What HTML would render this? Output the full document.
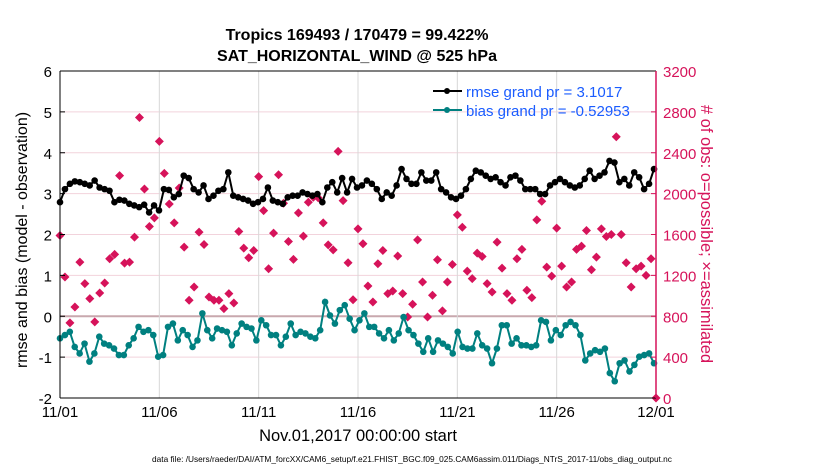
<!DOCTYPE html>
<html><head><meta charset="utf-8"><style>
body{margin:0;background:#fff;width:830px;height:470px;overflow:hidden}
svg{display:block;font-family:"Liberation Sans",Arial,sans-serif}
</style></head><body>
<svg id="chart" width="830" height="470" viewBox="0 0 830 470">
<text x="357" y="40" text-anchor="middle" font-size="16" font-weight="bold">Tropics 169493 / 170479 = 99.422%</text>
<text x="357" y="61" text-anchor="middle" font-size="16" font-weight="bold">SAT_HORIZONTAL_WIND @ 525 hPa</text>
<g id="grid"></g>
<g id="marks"></g>
<g id="axes"></g>
<text transform="translate(27,240) rotate(-90)" text-anchor="middle" font-size="16">rmse and bias (model - observation)</text>
<text transform="translate(701,234) rotate(90)" text-anchor="middle" font-size="16.5" fill="#d6135a">#  of obs: o=possible; ×=assimilated</text>
<text x="358" y="441" text-anchor="middle" font-size="16.5">Nov.01,2017 00:00:00 start</text>
<text x="412" y="462" text-anchor="middle" font-size="8.3">data file: /Users/raeder/DAI/ATM_forcXX/CAM6_setup/f.e21.FHIST_BGC.f09_025.CAM6assim.011/Diags_NTrS_2017-11/obs_diag_output.nc</text>
<g>
<line x1="433" y1="91" x2="462" y2="91" stroke="#000" stroke-width="2"/><circle cx="447" cy="91" r="3" fill="#000"/>
<text x="466" y="97" font-size="15" fill="#1a5cff">rmse grand pr = 3.1017</text>
<line x1="433" y1="110" x2="462" y2="110" stroke="#008080" stroke-width="2"/><circle cx="447" cy="110" r="3" fill="#008080"/>
<text x="466" y="116" font-size="15" fill="#1a5cff">bias grand pr = -0.52953</text>
</g>
</svg>
<script>
const xTickLabels=["11/01","11/06","11/11","11/16","11/21","11/26","12/01"];
const xTickDays=[0,5,10,15,20,25,30];
const yLeftTicks=[6,5,4,3,2,1,0,-1,-2];
const yRightTicks=[3200,2800,2400,2000,1600,1200,800,400,0];
const rmse=[2.79,3.11,3.24,3.30,3.28,3.24,3.20,3.32,3.15,3.11,3.07,2.79,2.85,2.83,2.75,2.71,2.67,2.73,2.54,2.71,2.59,3.11,3.09,2.91,2.99,3.44,3.38,3.11,3.03,3.20,2.87,2.95,3.07,3.11,3.52,2.95,2.91,2.87,2.83,2.75,2.79,2.87,3.15,2.83,2.79,2.75,2.91,2.95,2.95,3.03,2.99,2.95,2.99,2.79,3.15,3.28,3.03,3.38,
3.03,3.36,3.15,3.20,3.32,3.24,3.11,2.87,3.03,2.95,3.20,3.60,3.36,3.24,3.24,3.52,3.32,3.32,3.52,3.11,3.03,2.91,2.87,2.95,3.11,3.36,3.56,3.52,3.44,3.36,3.40,3.28,3.20,3.40,3.44,3.32,3.11,3.11,3.11,2.99,2.99,3.20,3.28,3.36,3.28,3.20,3.15,3.20,3.36,3.56,3.36,3.44,3.52,3.80,3.76,3.28,3.36,3.20,3.52,3.40,3.11,3.24,3.60];
const bias=[-0.54,-0.46,-0.38,-0.75,-0.91,-0.67,-1.11,-0.91,-0.50,-0.67,-0.71,-0.79,-0.95,-0.95,-0.71,-0.54,-0.26,-0.38,-0.34,-0.46,-0.99,-0.95,-0.26,-0.18,-0.59,-0.34,-0.46,-0.75,-0.59,0.07,-0.34,-0.54,-0.30,-0.34,-0.38,-0.71,-0.42,-0.18,-0.26,-0.30,-0.59,-0.10,-0.22,-0.46,-0.46,-0.71,-0.50,-0.18,-0.46,-0.38,-0.42,-0.50,-0.54,-0.34,0.35,0.02,-0.18,0.15,0.27,-0.06,-0.34,-0.10,0.07,-0.26,
-0.26,-0.42,-0.54,-0.34,-0.59,-0.42,-0.02,-0.34,-0.46,-0.67,-0.87,-0.54,-0.87,-0.59,-0.67,-0.75,-0.91,-0.38,-0.75,-0.79,-0.79,-0.42,-0.71,-0.79,-1.15,-0.79,-0.22,-0.22,-0.67,-0.54,-0.71,-0.71,-0.75,-0.71,-0.10,-0.14,-0.59,-0.34,-0.46,-0.22,-0.14,-0.22,-0.46,-1.08,-0.91,-0.83,-0.87,-0.79,-1.39,-1.59,-1.15,-1.08,-1.35,-1.19,-0.99,-0.95,-0.91,-1.15];
const obsCount=[1590,1184,735,891,1330,1119,972,745,1028,1125,1363,1405,2176,1320,1330,1574,2745,2045,1678,1763,2511,2198,1899,1714,2055,1476,956,1086,1623,1502,988,956,956,875,1021,930,1629,1467,1373,1444,2166,1834,1265,1613,2185,1906,1532,1356,1812,1584,1915,1964,1958,1714,1499,1450,2413,1932,1323,962,1655,1509,1096,
940,1314,1444,1021,1047,1389,1021,793,917,1548,1135,793,1005,1353,852,1135,1307,1792,1671,1242,1168,1418,1385,1119,1037,1525,1271,1021,956,1363,1454,1054,982,1743,1925,1281,1193,1662,1291,1086,1135,1454,1486,1639,1255,1379,1655,1580,1600,2556,1600,1323,1086,1265,1291,1200,1363,0];

const NS="http://www.w3.org/2000/svg";
const X0=60,X1=656,Y0=71,Y1=398;
const xs=d=>X0+(X1-X0)*d/30;
const yL=v=>Y1-(v+2)/8*(Y1-Y0);
const yR=v=>Y1-v/3200*(Y1-Y0);
function mk(tag,attrs,parent){const e=document.createElementNS(NS,tag);for(const k in attrs)e.setAttribute(k,attrs[k]);parent.appendChild(e);return e;}
const grid=document.getElementById('grid'),marks=document.getElementById('marks'),axes=document.getElementById('axes');
yLeftTicks.forEach((v,i)=>{
  const l=mk('line',{x1:X0,x2:X1,y1:yL(v),y2:yL(v),stroke:v===0?'#c8a8ae':'#f2d3dc','stroke-width':v===0?2:1},grid);
  
  
  const t=mk('text',{x:X0-8,y:yL(v)+6,'text-anchor':'end','font-size':15},axes);t.textContent=v;
  
  
  mk('line',{x1:X0,x2:X0+5,y1:yL(v),y2:yL(v),stroke:'#000'},axes);
});
yRightTicks.forEach(v=>{
  mk('line',{x1:X1-5,x2:X1,y1:yR(v),y2:yR(v),stroke:'#d6135a'},axes);
  const t=mk('text',{x:X1+7,y:yR(v)+6,'font-size':15,fill:'#d6135a'},axes);t.textContent=v;
  
  
});
xTickDays.forEach((d,i)=>{
  if(d>0&&d<30){const l=mk('line',{x1:xs(d),x2:xs(d),y1:Y0,y2:Y1,stroke:'#d8d8d8'},grid);
  
  }
  const t=mk('text',{x:xs(d),y:Y1+19,'text-anchor':'middle','font-size':15},axes);t.textContent=xTickLabels[i];
  
  
});
mk('line',{x1:X0,x2:X1,y1:Y0,y2:Y0,stroke:'#000'},axes);
mk('line',{x1:X0,x2:X1,y1:Y1,y2:Y1,stroke:'#000'},axes);
mk('line',{x1:X0,x2:X0,y1:Y0,y2:Y1,stroke:'#000'},axes);
mk('line',{x1:X1,x2:X1,y1:Y0,y2:Y1,stroke:'#d6135a','stroke-width':1.5},axes);
obsCount.forEach((v,i)=>{
  const x=xs(i*30/(obsCount.length-1)),y=yR(v);
  const g=mk('path',{d:`M${x},${y-4.5}L${x+4.5},${y}L${x},${y+4.5}L${x-4.5},${y}Z`,fill:'#d6135a'},marks);
  
  
});
function series(arr,color,name){
  const n=arr.length;let d='';
  arr.forEach((v,i)=>{d+=(i?'L':'M')+xs(i*29.9/(n-1)).toFixed(1)+','+yL(v).toFixed(1);});
  const p=mk('path',{d:d,fill:'none',stroke:color,'stroke-width':2},marks);
  
  
  arr.forEach((v,i)=>{const c=mk('circle',{cx:xs(i*29.9/(n-1)),cy:yL(v),r:3.3,fill:color},marks);
    
    });
}
series(rmse,'#000','rmse');
series(bias,'#008080','bias');
</script>
</body></html>
